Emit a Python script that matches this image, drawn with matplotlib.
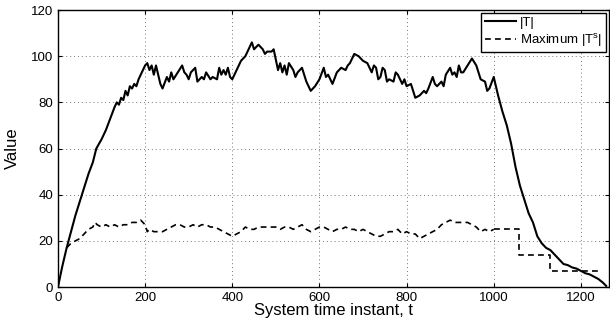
import numpy as np
import matplotlib
matplotlib.use("Agg")
import matplotlib.pyplot as plt

plt.rcParams["font.family"] = ["Liberation Sans", "DejaVu Sans"]

# |T| over time
t_T = [0, 10, 20, 30, 40, 50, 60, 70, 80, 88, 100, 110, 120, 130, 135, 140,
       145, 150, 155, 160, 165, 170, 175, 180, 185, 190, 200, 205, 210, 215,
       220, 225, 235, 240, 250, 255, 260, 265, 275, 285, 290, 295, 300, 305,
       315, 320, 330, 335, 340, 350, 355, 365, 370, 375, 380, 385, 390, 395,
       400, 410, 420, 430, 440, 445, 450, 455, 460, 470, 475, 480, 490, 495,
       505, 510, 515, 520, 525, 530, 540, 545, 550, 560, 565, 570, 580, 590,
       600, 610, 615, 620, 630, 640, 650, 660, 665, 670, 680, 690, 700, 710,
       720, 725, 730, 735, 740, 745, 750, 755, 760, 770, 775, 780, 790, 795,
       800, 810, 820, 830, 840, 845, 850, 860, 865, 870, 880, 885, 890, 900,
       905, 910, 915, 920, 925, 930, 940, 950, 960, 970, 980, 985, 990, 1000,
       1005, 1010, 1020, 1030, 1040, 1050, 1060, 1070, 1080, 1090, 1100,
       1110, 1120, 1130, 1140, 1150, 1160, 1170, 1180, 1190, 1200, 1210,
       1220, 1230, 1240, 1250, 1258]
v_T = [0, 9, 17, 24, 31, 37, 43, 49, 54, 60, 64, 68, 73, 78, 80, 79,
       82, 81, 85, 83, 87, 86, 88, 87, 90, 92, 96, 97, 94, 96,
       92, 96, 88, 86, 91, 89, 93, 90, 93, 96, 93, 92, 90, 93,
       95, 89, 91, 90, 93, 90, 91, 90, 95, 92, 94, 92, 95, 91,
       90, 94, 98, 100, 104, 106, 103, 104, 105, 103, 101, 102, 102, 103,
       94, 97, 93, 96, 92, 97, 94, 91, 93, 95, 92, 89, 85, 87,
       90, 95, 91, 92, 88, 93, 95, 94, 96, 97, 101, 100, 98, 97,
       93, 96, 95, 90, 91, 95, 94, 89, 90, 89, 93, 92, 88, 90,
       87, 88, 82, 83, 85, 84, 86, 91, 88, 87, 89, 87, 92, 95,
       92, 93, 91, 96, 93, 93, 96, 99, 96, 90, 89, 85, 86, 91,
       87, 83, 76, 70, 62, 52, 44, 38, 32, 28, 22,
       19, 17, 16, 14, 12, 10, 9.5, 8.5, 8, 7, 6,
       5.5, 4.5, 3.5, 2, 0.5]

# Maximum |T^s| over time (fluctuating part)
t_S = [20, 30, 40, 50, 60, 70, 80, 85, 90, 100, 110, 120, 130, 140, 150, 160,
       170, 180, 190, 195, 200, 205, 210, 220, 230, 240, 250, 260, 270, 280,
       290, 300, 310, 320, 330, 340, 350, 360, 370, 380, 390, 400, 410, 420,
       430, 440, 450, 460, 470, 480, 490, 500, 510, 520, 530, 540, 550, 560,
       570, 580, 590, 600, 610, 620, 630, 640, 650, 660, 670, 680, 690, 700,
       710, 720, 730, 740, 750, 760, 770, 780, 790, 800, 810, 820, 830, 840,
       850, 860, 870, 880, 890, 900, 910, 920, 930, 940, 950, 960, 970, 980,
       990, 1000]
v_S = [17, 19, 20, 21, 23, 25, 26, 28, 27, 26, 27, 26, 27, 26, 27, 27,
       28, 28, 29, 28, 27, 24, 25, 24, 24, 24, 25, 26, 27, 27,
       26, 26, 27, 26, 27, 27, 26, 26, 25, 24, 23, 22, 23, 24,
       26, 25, 25, 26, 26, 26, 26, 26, 25, 26, 26, 25, 26, 27,
       25, 24, 25, 26, 26, 25, 24, 25, 25, 26, 25, 25, 24, 25,
       24, 23, 22, 22, 23, 24, 24, 25, 23, 24, 23, 23, 21, 22,
       23, 24, 25, 27, 28, 29, 28, 28, 28, 28, 27, 26, 24, 25,
       24, 25]
# stepwise tail after t = 1000
t_S_tail = [1000, 1058, 1130, 1242]
v_S_tail = [25, 14, 7, 7]

fig = plt.figure(figsize=(6.1, 3.24), dpi=100)
ax = fig.add_axes([0.095, 0.114, 0.903, 0.855])

dash = (0, (3.5, 2.5))
ax.plot(t_T, v_T, color="black", lw=1.5, label="|T|")
ax.plot(t_S, v_S, color="black", lw=1.2, ls=dash,
        label="Maximum |T$^\\mathregular{s}$|")
ax.plot(t_S_tail, v_S_tail, color="black", lw=1.2, ls=dash,
        drawstyle="steps-post")

ax.set_xlim(0, 1264)
ax.set_ylim(0, 120)
ax.set_xticks([0, 200, 400, 600, 800, 1000, 1200])
ax.set_yticks([0, 20, 40, 60, 80, 100, 120])
ax.grid(True, color="#777777", ls=(0, (1, 3)), lw=0.7)
ax.tick_params(direction="in", top=True, right=True, labelsize=9.5, length=3)
for s in ax.spines.values():
    s.set_linewidth(1.0)

ax.set_xlabel("System time instant, t", fontsize=12, labelpad=-1)
ax.set_ylabel("Value", fontsize=12, labelpad=8)

leg = ax.legend(loc="upper right", fontsize=9.5, fancybox=False, framealpha=1,
                edgecolor="black", borderaxespad=0.2, handlelength=2.4,
                borderpad=0.3, labelspacing=0.2, handletextpad=0.3)
leg.get_frame().set_linewidth(1.0)

fig.savefig("out.png", dpi=100)
